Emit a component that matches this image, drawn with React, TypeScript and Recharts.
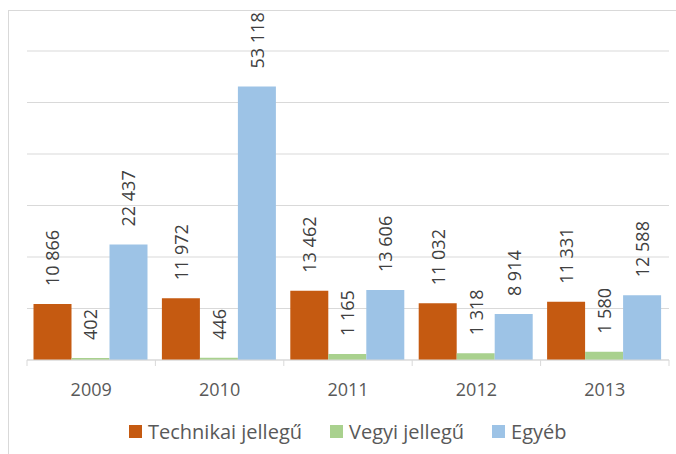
import React from 'react';
import { BarChart, Bar, XAxis, YAxis, CartesianGrid, Legend, LabelList } from 'recharts';

/* ─── Data ─────────────────────────────────────────────────────────────────── */
const years = ['2009', '2010', '2011', '2012', '2013'];
const technikai = [10866, 11972, 13462, 11032, 11331];
const vegyi = [402, 446, 1165, 1318, 1580];
const egyeb = [22437, 53118, 13606, 8914, 12588];
const yTicks = [0, 10000, 20000, 30000, 40000, 50000, 60000];

const series = [
    { key: 'technikai', name: 'Technikai jellegű', color: '#C55A11' },
    { key: 'vegyi', name: 'Vegyi jellegű', color: '#A9D18E' },
    { key: 'egyeb', name: 'Egyéb', color: '#9DC3E6' },
];

const data = years.map((year, i) => ({
    year,
    technikai: technikai[i],
    vegyi: vegyi[i],
    egyeb: egyeb[i],
}));

/* ─── Layout ───────────────────────────────────────────────────────────────── */
const W = 676;
const H = 454;
const X_AXIS_H = 30;
const MARGIN = { top: 51, right: 7, left: 27, bottom: 64 };
const AXIS_Y = H - MARGIN.bottom - X_AXIS_H;
const BAND = (W - MARGIN.left - MARGIN.right) / years.length;
const FONT = '"Open Sans", "Noto Sans", sans-serif';
const GRID = '#d9d9d9';

// space as thousands separator, as in the original
const fmt = (v: number) => String(v).replace(/\B(?=(\d{3})+(?!\d))/g, '\u00a0');

function BarLabel(props: any) {
    const x = Number(props.x);
    const y = Number(props.y);
    const w = Number(props.width);
    const cx = x + w / 2;
    const ty = y - 18;
    return (
        <text
            x={cx}
            y={ty}
            transform={`rotate(-90 ${cx} ${ty})`}
            textAnchor="start"
            dominantBaseline="central"
            fill="#404040"
            fontSize={18}
            fontFamily={FONT}
        >
            {fmt(Number(props.value))}
        </text>
    );
}

// year label in the middle, tick marks on the category boundaries (Excel style)
function YearTick(props: any) {
    const x = Number(props.x);
    const left = x - BAND / 2;
    const right = x + BAND / 2;
    const last = props.payload?.value === years[years.length - 1];
    return (
        <g>
            <line x1={left} y1={AXIS_Y} x2={left} y2={AXIS_Y + 6} stroke={GRID} />
            {last && <line x1={right} y1={AXIS_Y} x2={right} y2={AXIS_Y + 6} stroke={GRID} />}
            <text x={x} y={AXIS_Y + 29} textAnchor="middle" dominantBaseline="central" fill="#595959" fontSize={18} fontFamily={FONT}>
                {props.payload?.value}
            </text>
        </g>
    );
}

function LegendContent() {
    return (
        <div style={{ display: 'flex', alignItems: 'center', marginLeft: 129, fontFamily: FONT, fontSize: 20, color: '#595959' }}>
            {series.map((s) => (
                <div key={s.key} style={{ display: 'flex', alignItems: 'center', marginRight: 28 }}>
                    <span style={{ display: 'inline-block', width: 13, height: 13, background: s.color, marginRight: 6 }} />
                    <span>{s.name}</span>
                </div>
            ))}
        </div>
    );
}

export default function App() {
    return (
        <div style={{ position: 'absolute', left: 0, top: 0, width: W, height: H, background: '#fff' }}>
            <div
                style={{
                    position: 'absolute',
                    left: 8,
                    top: 10,
                    width: 668,
                    height: 444,
                    borderTop: `1px solid ${GRID}`,
                    borderLeft: `1px solid ${GRID}`,
                    boxSizing: 'border-box',
                }}
            />
            <div style={{ position: 'absolute', left: 0, top: 0 }}>
                <BarChart width={W} height={H} data={data} margin={MARGIN} barGap={0} barCategoryGap={6.5}>
                    <CartesianGrid vertical={false} stroke={GRID} />
                    <XAxis
                        dataKey="year"
                        axisLine={{ stroke: GRID }}
                        tickLine={false}
                        height={X_AXIS_H}
                        tick={<YearTick />}
                        interval={0}
                    />
                    <YAxis hide domain={[0, 60000]} ticks={yTicks} />
                    <Legend
                        verticalAlign="middle"
                        wrapperStyle={{ top: 418, left: 0, width: W }}
                        content={<LegendContent />}
                    />
                    {series.map((s) => (
                        <Bar key={s.key} dataKey={s.key} name={s.name} fill={s.color} isAnimationActive={false}>
                            <LabelList dataKey={s.key} content={<BarLabel />} />
                        </Bar>
                    ))}
                </BarChart>
            </div>
        </div>
    );
}
